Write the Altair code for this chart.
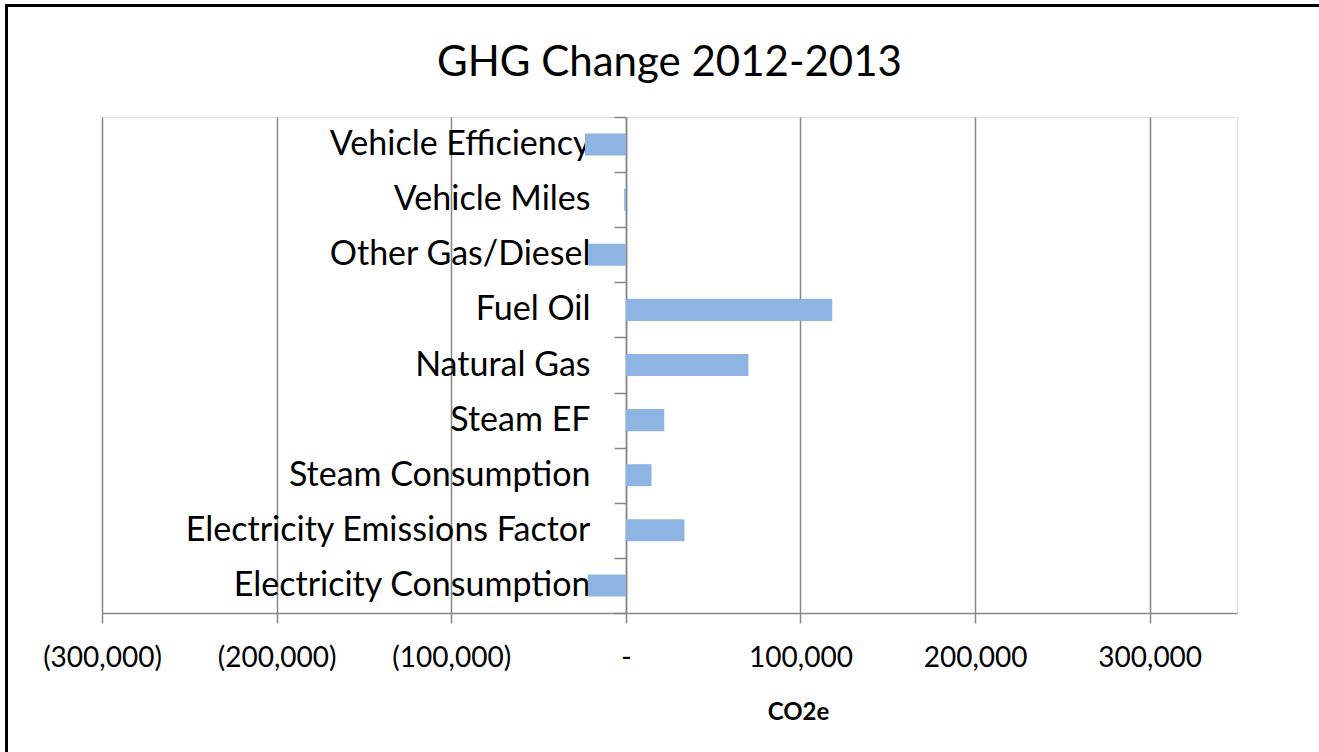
import altair as alt
import pandas as pd

categories = [
    "Vehicle Efficiency",
    "Vehicle Miles",
    "Other Gas/Diesel",
    "Fuel Oil",
    "Natural Gas",
    "Steam EF",
    "Steam Consumption",
    "Electricity Emissions Factor",
    "Electricity Consumption",
]
values = [-23400, -1000, -21500, 118200, 70200, 22000, 14700, 33600, -21800]
tick_values = [-300000, -200000, -100000, 0, 100000, 200000, 300000]

df = pd.DataFrame({"category": categories, "co2e": values})

FONT = "Lato"
GRAY = "#878787"
W, H = 1135, 496
PAD_L, PAD_T = 102, 117

x_scale = alt.Scale(domain=[-300000, 350000], nice=False, zero=False)

bars = alt.Chart(df).mark_bar(color="#8EB4E3", height=alt.RelativeBandSize(0.4)).encode(
    x=alt.X(
        "co2e:Q",
        scale=x_scale,
        axis=alt.Axis(
            values=tick_values,
            title="CO2e",
            titleFont=FONT,
            titleFontSize=24,
            titleFontWeight="bold",
            titleColor="black",
            titleX=696,
            titleY=87,
            labelExpr="datum.value == 0 ? '-' : (datum.value < 0 ? '(' + format(-datum.value, ',') + ')' : format(datum.value, ','))",
            labelFont=FONT,
            labelFontSize=28,
            labelColor="black",
            labelPadding=21,
            labelOverlap=False,
            labelFlush=False,
            labelLimit=0,
            tickSize=10,
            tickColor=GRAY,
            tickWidth=1.5,
            domainColor=GRAY,
            domainWidth=1.5,
            grid=True,
            gridColor=GRAY,
            gridWidth=1.5,
        ),
    ),
    y=alt.Y(
        "category:N",
        sort=categories,
        scale=alt.Scale(paddingInner=0, paddingOuter=0),
        axis=alt.Axis(
            title=None,
            offset=-524,
            labelFont=FONT,
            labelFontSize=34,
            labelColor="black",
            labelPadding=24,
            labelLimit=0,
            labelOverlap=False,
            tickBand="extent",
            tickSize=12,
            tickColor=GRAY,
            tickWidth=1.5,
            domainColor=GRAY,
            domainWidth=1.5,
            grid=False,
        ),
    ),
)

frame_df = pd.DataFrame({"k": [0]})
top_line = alt.Chart(frame_df).mark_rule(color="black", strokeWidth=3).encode(
    x=alt.value(6 - PAD_L), x2=alt.value(1319 - PAD_L), y=alt.value(5.5 - PAD_T)
)
left_line = alt.Chart(frame_df).mark_rule(color="black", strokeWidth=3).encode(
    x=alt.value(6.5 - PAD_L), y=alt.value(4 - PAD_T), y2=alt.value(752 - PAD_T)
)

chart = alt.layer(bars, top_line, left_line).properties(
    width=W,
    height=H,
    title=alt.TitleParams(
        "GHG Change 2012-2013",
        font=FONT,
        fontSize=42,
        fontWeight="normal",
        color="black",
        anchor="middle",
        baseline="alphabetic",
        offset=0,
        dy=115,
    ),
    autosize=alt.AutoSizeParams(type="none"),
    padding={"left": PAD_L, "top": PAD_T, "right": 1319 - PAD_L - W, "bottom": 752 - PAD_T - H},
).configure_view(stroke=None).configure(background="white")

chart.save("out.html", embed_options={"renderer": "svg", "actions": False})
